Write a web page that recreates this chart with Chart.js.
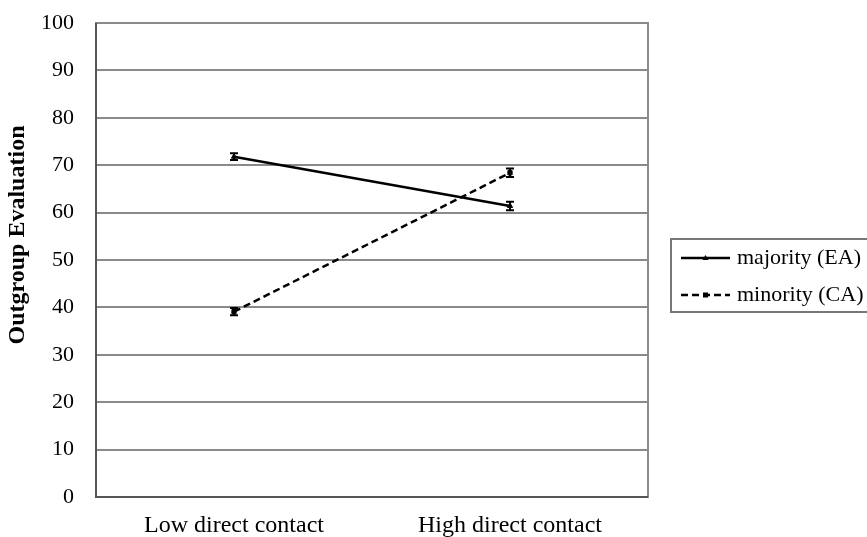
<!DOCTYPE html>
<html>
<head>
<meta charset="utf-8">
<script src="https://cdn.jsdelivr.net/npm/chart.js@4/dist/chart.umd.min.js"></script>
<style>
  html, body { margin: 0; padding: 0; background: #fff; }
  #wrap { width: 867px; height: 537px; position: relative; }
</style>
</head>
<body>
<div id="wrap"><canvas id="c" width="867" height="537"></canvas></div>
<script>
// Categories and group means with their standard errors
const categories = ['Low direct contact', 'High direct contact'];
const majorityLabel = 'majority (EA)';
const minorityLabel = 'minority (CA)';
const majorityMeans = [71.8, 61.4];
const majorityErrors = [0.7, 0.9];
const minorityMeans = [39.1, 68.4];
const minorityErrors = [0.75, 0.9];
const yTicks = [0, 10, 20, 30, 40, 50, 60, 70, 80, 90, 100];
const yTitle = 'Outgroup Evaluation';

const SERIF = '"Liberation Serif", "Times New Roman", serif';

// Vertical error bars with caps, computed from the dataset values through the scales
const errorBars = {
  id: 'errorBars',
  afterDatasetsDraw(chart) {
    const ctx = chart.ctx;
    const y = chart.scales.y;
    chart.data.datasets.forEach((ds, i) => {
      const meta = chart.getDatasetMeta(i);
      meta.data.forEach((pt, j) => {
        const v = ds.data[j], e = ds.errors[j];
        const top = y.getPixelForValue(v + e);
        const bot = y.getPixelForValue(v - e);
        ctx.save();
        ctx.strokeStyle = '#000';
        ctx.lineWidth = 2;
        ctx.beginPath();
        ctx.moveTo(pt.x, top); ctx.lineTo(pt.x, bot);
        ctx.moveTo(pt.x - 4, top); ctx.lineTo(pt.x + 4, top);
        ctx.moveTo(pt.x - 4, bot); ctx.lineTo(pt.x + 4, bot);
        ctx.stroke();
        ctx.restore();
      });
    });
  }
};

// Box around the plot area, rotated y title and a boxed legend on the right
const decorations = {
  id: 'decorations',
  beforeDatasetsDraw(chart) {
    const { ctx, chartArea: a } = chart;
    ctx.save();
    ctx.strokeStyle = '#8a8a8a';
    ctx.lineWidth = 2;
    ctx.strokeRect(a.left, a.top, a.right - a.left, a.bottom - a.top);
    ctx.strokeStyle = '#555';
    ctx.beginPath();
    ctx.moveTo(a.left, a.top); ctx.lineTo(a.left, a.bottom); ctx.lineTo(a.right, a.bottom);
    ctx.stroke();
    ctx.restore();
  },
  afterDraw(chart) {
    const ctx = chart.ctx;
    ctx.save();
    // y title
    ctx.translate(18, 235);
    ctx.rotate(-Math.PI / 2);
    ctx.font = 'bold 24px ' + SERIF;
    ctx.fillStyle = '#000';
    ctx.textAlign = 'center';
    ctx.textBaseline = 'middle';
    ctx.fillText(yTitle, 0, 0);
    ctx.restore();

    // legend box
    ctx.save();
    ctx.strokeStyle = '#777';
    ctx.lineWidth = 2;
    ctx.strokeRect(671, 239, 210, 73);
    ctx.font = '22px ' + SERIF;
    ctx.fillStyle = '#000';
    ctx.textBaseline = 'middle';
    const rows = [258, 295];
    chart.data.datasets.forEach((ds, i) => {
      const ry = rows[i];
      ctx.strokeStyle = '#000';
      ctx.lineWidth = ds.borderWidth;
      ctx.setLineDash(ds.borderDash || []);
      ctx.beginPath();
      ctx.moveTo(681, ry); ctx.lineTo(730, ry);
      ctx.stroke();
      ctx.setLineDash([]);
      ctx.fillStyle = '#000';
      if (ds.pointStyle === 'rect') {
        ctx.fillRect(703, ry - 2.5, 5, 5);
      } else {
        ctx.beginPath();
        ctx.moveTo(705.5, ry - 3); ctx.lineTo(708.5, ry + 2); ctx.lineTo(702.5, ry + 2);
        ctx.closePath(); ctx.fill();
      }
      ctx.fillText(ds.label, 737, ry);
    });
    ctx.restore();
  }
};

new Chart(document.getElementById('c'), {
  type: 'line',
  data: {
    labels: categories,
    datasets: [
      {
        label: majorityLabel,
        data: majorityMeans,
        errors: majorityErrors,
        borderColor: '#000',
        backgroundColor: '#000',
        borderWidth: 2.5,
        pointStyle: 'triangle',
        pointRadius: 3,
        pointBorderWidth: 1
      },
      {
        label: minorityLabel,
        data: minorityMeans,
        errors: minorityErrors,
        borderColor: '#000',
        backgroundColor: '#000',
        borderWidth: 2.5,
        borderDash: [7, 4],
        pointStyle: 'rect',
        pointRadius: 3,
        pointBorderWidth: 1
      }
    ]
  },
  options: {
    responsive: false,
    animation: false,
    layout: { padding: { left: 0, right: 219, top: 23, bottom: 0 } },
    plugins: { legend: { display: false }, tooltip: { enabled: false } },
    scales: {
      x: {
        offset: true,
        grid: { display: false, drawTicks: false },
        border: { display: false },
        ticks: { color: '#000', font: { family: SERIF, size: 24 }, padding: 14 },
        afterFit(s) { s.height = 40; s.paddingLeft = 0; s.paddingRight = 0; }
      },
      y: {
        min: 0, max: 100,
        afterBuildTicks(s) { s.ticks = yTicks.map(v => ({ value: v })); },
        grid: { color: '#8a8a8a', lineWidth: 2, drawTicks: false },
        border: { display: false },
        ticks: { color: '#000', font: { family: SERIF, size: 22 }, padding: 22 },
        afterFit(s) { s.width = 96; s.paddingTop = 0; s.paddingBottom = 0; }
      }
    }
  },
  plugins: [errorBars, decorations]
});
</script>
</body>
</html>
